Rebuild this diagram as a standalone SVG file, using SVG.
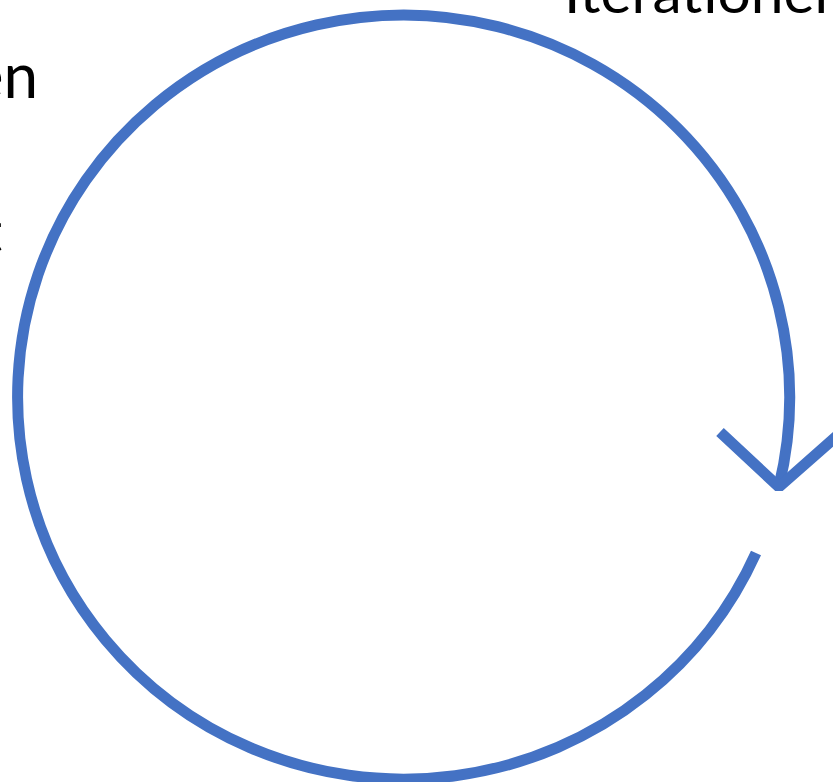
<svg xmlns="http://www.w3.org/2000/svg" width="833" height="782" viewBox="0 0 833 782">
<style>
.lbl{font-family:Lato,"Open Sans","Liberation Sans",sans-serif;font-size:56px;fill:#000}
.cyc{fill:none;stroke:#4472C4;stroke-width:11;stroke-linecap:butt}
</style>
<rect width="833" height="782" fill="#fff"/>
<g id="labels">
<text class="lbl" x="564" y="13" textLength="272" lengthAdjust="spacingAndGlyphs">Iterationer</text>
<text class="lbl" x="38" y="98" text-anchor="end" style="font-size:62px">en</text>
<text class="lbl" x="2" y="252" text-anchor="end">t</text>
</g>
<g id="connectors">
<path class="cyc" d="M756,553 A386,382 0 1 1 779,486"/>
<polyline class="cyc" stroke-linejoin="bevel" points="720,432 779,487 839,434"/>
</g>
</svg>
